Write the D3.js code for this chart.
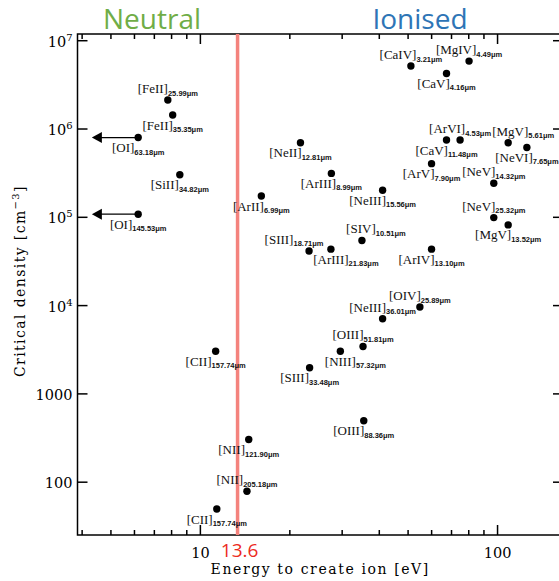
<!DOCTYPE html>
<html>
<head>
<meta charset="utf-8">
<script src="https://cdn.jsdelivr.net/npm/d3@7"></script>
<style>
body { margin: 0; background: #fff; }
svg { display: block; }
</style>
</head>
<body>
<svg id="chart"></svg>
<script>
// fine-structure lines: ion, wavelength (micron), energy to create ion (eV), critical density (cm^-3)
var ions = ["[FeII]", "[FeII]", "[OI]", "[SiII]", "[OI]", "[ArII]", "[CII]", "[NII]", "[NII]", "[CII]",
    "[NeII]", "[ArIII]", "[SIII]", "[ArIII]", "[SIII]", "[NIII]", "[SIV]", "[OIII]", "[OIII]", "[NeIII]",
    "[NeIII]", "[OIV]", "[CaIV]", "[ArV]", "[ArIV]", "[CaV]", "[CaV]", "[ArVI]", "[MgIV]", "[NeV]",
    "[NeV]", "[MgV]", "[MgV]", "[NeVI]"];
var wavelengths = ["25.99", "35.35", "63.18", "34.82", "145.53", "6.99", "157.74", "121.90", "205.18", "157.74",
    "12.81", "8.99", "18.71", "21.83", "33.48", "57.32", "10.51", "51.81", "88.36", "15.56",
    "36.01", "25.89", "3.21", "7.90", "13.10", "4.16", "11.48", "4.53", "4.49", "14.32",
    "25.32", "5.61", "13.52", "7.65"];
var energies = [7.8, 8.1, 6.2, 8.56, 6.2, 16.1, 11.3, 14.6, 14.4, 11.4,
    21.8, 27.7, 23.3, 27.6, 23.4, 29.7, 35.1, 35.4, 35.6, 41.2,
    41.2, 55.0, 51.3, 60.2, 60.2, 67.6, 67.6, 75.1, 80.5, 97.5,
    97.5, 109, 109, 126];
var densities = [2.1e6, 1.42e6, 7.9e5, 3.0e5, 1.07e5, 1.72e5, 3.0e3, 300, 78, 49,
    6.9e5, 3.1e5, 4.1e4, 4.3e4, 1.95e3, 3.0e3, 5.4e4, 3.4e3, 490, 2.0e5,
    7.0e3, 9.5e3, 5.1e6, 4.0e5, 4.3e4, 4.2e6, 7.4e5, 7.4e5, 5.8e6, 2.4e5,
    9.8e4, 6.9e5, 8.1e4, 6.1e5];

// lines drawn as upper limits (arrow pointing to lower energy)
var limitLines = [2, 4];
var limitEnergy = 4.33;

var ionisationEnergy = 13.6;

var xMinorTicks = [4, 5, 6, 7, 8, 9, 20, 30, 40, 50, 60, 70, 80, 90];
var xMajorTicks = [10, 100];
var yTicks = [100, 1000, 1e4, 1e5, 1e6, 1e7];
var yTickLabels = [["100", ""], ["1000", ""], ["10", "4"], ["10", "5"], ["10", "6"], ["10", "7"]];

// label placement: 'a' = above the dot, 'b' = below; shift in px along x
var labelSide = ["a", "b", "b", "b", "b", "b", "b", "b", "a", "b",
    "b", "b", "a", "b", "b", "b", "a", "a", "b", "b",
    "a", "a", "a", "b", "b", "b", "b", "a", "a", "a",
    "a", "a", "b", "b"];
var labelShift = [0, 0, 0, 0, 0, 0, 0, 0, 0, 0,
    0, 0, -15, 15, 0, 15, 14, 0, 0, 0,
    0, 0, 0, 0, 0, 0, 0, 0, 0, 0,
    0, 15, 0, 0];

var width = 559,
    height = 581,
    margin = {top: 34, left: 77.5},
    innerWidth = 485.5,
    innerHeight = 501;

var axisFont = "'DejaVu Serif', 'Liberation Serif', serif",
    serifFont = "'Liberation Serif', 'DejaVu Serif', serif",
    sansFont = "'Liberation Sans', Arial, sans-serif",
    titleFont = "'Open Sans', 'Noto Sans', sans-serif";

var svg = d3.select('#chart')
    .attr('width', width)
    .attr('height', height);

var chart = svg.append('g')
    .attr('transform', 'translate(' + margin.left + ', ' + margin.top + ')');

var x = d3.scaleLog()
    .domain([3.874, 166.7])
    .range([0, innerWidth]);

var y = d3.scaleLog()
    .domain([24.9, 1.176e7])
    .range([innerHeight, 0]);

//Ticks, all pointing inwards
function styleAxis(g) {
    g.select('.domain').remove();
    g.selectAll('.tick line').attr('stroke', '#000').attr('stroke-width', 1.5);
}

chart.append('g')
    .attr('transform', 'translate(0,' + innerHeight + ')')
    .call(d3.axisBottom(x).tickValues(xMinorTicks).tickSizeInner(-5).tickSizeOuter(0).tickFormat(''))
    .call(styleAxis);

var xMajor = chart.append('g')
    .attr('transform', 'translate(0,' + innerHeight + ')')
    .call(d3.axisBottom(x).tickValues(xMajorTicks).tickSizeInner(-10).tickSizeOuter(0).tickFormat(d3.format('d')))
    .call(styleAxis);
xMajor.selectAll('.tick text')
    .attr('y', 23)
    .attr('dy', null)
    .style('font-family', axisFont)
    .style('font-size', '14.5px')
    .attr('fill', '#000');

chart.append('g')
    .call(d3.axisTop(x).tickValues(xMinorTicks).tickSizeInner(-5).tickSizeOuter(0).tickFormat(''))
    .call(styleAxis);
chart.append('g')
    .call(d3.axisTop(x).tickValues(xMajorTicks).tickSizeInner(-10).tickSizeOuter(0).tickFormat(''))
    .call(styleAxis);

var yAxis = chart.append('g')
    .call(d3.axisLeft(y).tickValues(yTicks).tickSizeInner(-10).tickSizeOuter(0).tickFormat(''))
    .call(styleAxis);
yAxis.selectAll('.tick').each(function (d, i) {
    var t = d3.select(this).append('text')
        .attr('x', -5)
        .attr('y', 6)
        .attr('text-anchor', 'end')
        .attr('fill', '#000')
        .style('font-family', axisFont)
        .style('font-size', '14.5px');
    t.append('tspan').text(yTickLabels[i][0]);
    if (yTickLabels[i][1]) {
        t.append('tspan')
            .attr('dy', -6)
            .style('font-size', '10px')
            .text(yTickLabels[i][1]);
    }
});

chart.append('g')
    .attr('transform', 'translate(' + innerWidth + ',0)')
    .call(d3.axisRight(y).tickValues(yTicks).tickSizeInner(-10).tickSizeOuter(0).tickFormat(''))
    .call(styleAxis);

// frame
chart.append('rect')
    .attr('width', innerWidth)
    .attr('height', innerHeight)
    .attr('fill', 'none')
    .attr('stroke', '#000')
    .attr('stroke-width', 1.5);

// hydrogen ionisation line
chart.append('line')
    .attr('x1', x(ionisationEnergy) - 2)
    .attr('x2', x(ionisationEnergy) - 2)
    .attr('y1', 0)
    .attr('y2', innerHeight)
    .attr('stroke', '#f4837d')
    .attr('stroke-width', 3.5);

svg.append('text')
    .attr('x', margin.left + x(ionisationEnergy))
    .attr('y', 557)
    .attr('text-anchor', 'middle')
    .attr('fill', '#ec2a22')
    .style('font-family', titleFont)
    .style('font-size', '19px')
    .text(ionisationEnergy);

// Neutral / Ionised headings
svg.append('text')
    .attr('x', 152)
    .attr('y', 29)
    .attr('text-anchor', 'middle')
    .attr('fill', '#70ad47')
    .style('font-family', titleFont)
    .style('font-size', '28px')
    .text('Neutral');

svg.append('text')
    .attr('x', 420)
    .attr('y', 29)
    .attr('text-anchor', 'middle')
    .attr('fill', '#2e75b6')
    .style('font-family', titleFont)
    .style('font-size', '28px')
    .text('Ionised');

// axis titles
svg.append('text')
    .attr('x', margin.left + innerWidth / 2)
    .attr('y', 574)
    .attr('text-anchor', 'middle')
    .attr('fill', '#000')
    .style('font-family', axisFont)
    .style('font-size', '14px')
    .style('letter-spacing', '1.6px')
    .text('Energy to create ion [eV]');

var yTitle = svg.append('text')
    .attr('transform', 'translate(25,281) rotate(-90)')
    .attr('text-anchor', 'middle')
    .attr('fill', '#000')
    .style('font-family', axisFont)
    .style('font-size', '14px')
    .style('letter-spacing', '1.4px');
yTitle.append('tspan').text('Critical density [cm');
yTitle.append('tspan').attr('dy', -6).style('font-size', '10px').text('\u22123');
yTitle.append('tspan').attr('dy', 6).text(']');

// upper limit arrows
limitLines.forEach(function (i) {
    var yy = y(densities[i]),
        tip = x(limitEnergy);
    chart.append('line')
        .attr('x1', x(energies[i]))
        .attr('x2', tip + 8)
        .attr('y1', yy)
        .attr('y2', yy)
        .attr('stroke', '#000')
        .attr('stroke-width', 1.2);
    chart.append('path')
        .attr('d', 'M' + tip + ',' + yy + 'L' + (tip + 10) + ',' + (yy - 5.5) + 'L' + (tip + 10) + ',' + (yy + 5.5) + 'Z')
        .attr('fill', '#000');
});

// points
chart.selectAll('.dot')
    .data(ions)
    .enter().append('circle')
    .attr('class', 'dot')
    .attr('cx', function (d, i) { return x(energies[i]); })
    .attr('cy', function (d, i) { return y(densities[i]); })
    .attr('r', 3.7)
    .attr('fill', '#000');

// labels, ion name with wavelength as subscript
var labels = chart.selectAll('.lbl')
    .data(ions)
    .enter().append('text')
    .attr('class', 'lbl')
    .attr('x', function (d, i) { return x(energies[i]) + labelShift[i]; })
    .attr('y', function (d, i) { return y(densities[i]) + (labelSide[i] === 'a' ? -7 : 14.5); })
    .attr('text-anchor', 'middle')
    .attr('fill', '#111');

labels.append('tspan')
    .style('font-family', serifFont)
    .style('font-size', '13px')
    .text(function (d) { return d; });

labels.append('tspan')
    .attr('dy', 2.5)
    .style('font-family', sansFont)
    .style('font-size', '7.5px')
    .style('font-weight', 'bold')
    .text(function (d, i) { return wavelengths[i] + '\u03bcm'; });
</script>
</body>
</html>
